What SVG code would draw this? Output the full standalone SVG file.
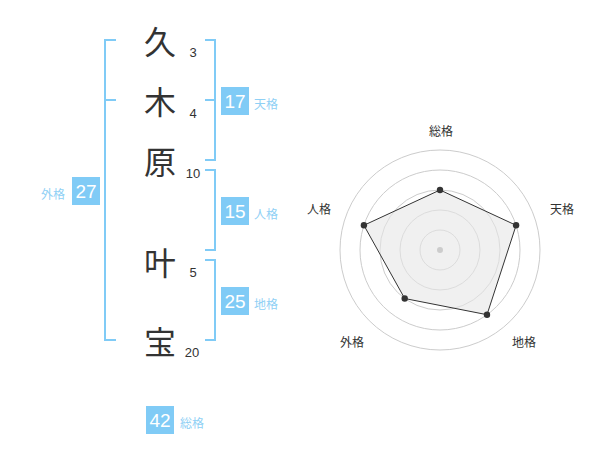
<svg xmlns="http://www.w3.org/2000/svg" width="600" height="470" viewBox="0 0 600 470">
<style>
.ch{font-family:"Noto Sans CJK JP","Noto Sans CJK SC",sans-serif;font-size:32px;fill:#333;text-anchor:middle;dominant-baseline:central}
.num{font-family:"Liberation Sans",Arial,sans-serif;font-size:13px;fill:#333;text-anchor:middle;dominant-baseline:central}
.br{fill:none;stroke:#80cbf6;stroke-width:2}
.box{fill:#80cbf6}
.bt{font-family:"Liberation Sans",Arial,sans-serif;font-size:19px;fill:#fff;text-anchor:middle;dominant-baseline:central}
.bl{font-family:"Noto Sans CJK JP","Noto Sans CJK SC",sans-serif;font-size:12px;fill:#8fd0f5;dominant-baseline:central}
.ring{fill:none;stroke:#ccc;stroke-width:1}
.rl{font-family:"Noto Sans CJK JP","Noto Sans CJK SC",sans-serif;font-size:12px;fill:#333;text-anchor:middle;dominant-baseline:central}
.pt{fill:#333}
</style>
<rect width="600" height="470" fill="#fff"/>
<g id="connectors">
<path class="br" d="M116,40 H105 V340 H116 M105,100 H116"/>
<path class="br" d="M205,40 H215 V160 H205 M205,100 H215"/>
<path class="br" d="M205,170 H215 V250 H205"/>
<path class="br" d="M205,260 H215 V340 H205"/>
</g>
<g id="char1"><text class="ch" x="160" y="40">久</text><text class="num" x="193" y="52">3</text></g>
<g id="char2"><text class="ch" x="160" y="100">木</text><text class="num" x="193" y="113">4</text></g>
<g id="char3"><text class="ch" x="160" y="160">原</text><text class="num" x="193" y="173">10</text></g>
<g id="char4"><text class="ch" x="160" y="261">叶</text><text class="num" x="193" y="272">5</text></g>
<g id="char5"><text class="ch" x="160" y="340">宝</text><text class="num" x="192" y="352">20</text></g>
<g id="tenkaku"><rect class="box" x="221" y="87" width="28" height="28"/><text class="bt" x="235" y="101">17</text><text class="bl" x="254" y="103">天格</text></g>
<g id="jinkaku"><rect class="box" x="221" y="197" width="28" height="28"/><text class="bt" x="235" y="211">15</text><text class="bl" x="254" y="213">人格</text></g>
<g id="chikaku"><rect class="box" x="221" y="287" width="28" height="28"/><text class="bt" x="235" y="301">25</text><text class="bl" x="254" y="303">地格</text></g>
<g id="gaikaku"><rect class="box" x="72" y="177" width="28" height="28"/><text class="bt" x="86" y="191">27</text><text class="bl" x="41" y="193">外格</text></g>
<g id="soukaku"><rect class="box" x="146" y="406" width="28" height="28"/><text class="bt" x="160" y="420">42</text><text class="bl" x="180" y="422">総格</text></g>
<g id="radar">
<circle class="ring" cx="440" cy="250" r="20"/>
<circle class="ring" cx="440" cy="250" r="40"/>
<circle class="ring" cx="440" cy="250" r="60"/>
<circle class="ring" cx="440" cy="250" r="80"/>
<circle class="ring" cx="440" cy="250" r="100"/>
<polygon points="440,190 516.1,225.3 487,314.7 404.7,298.5 363.9,225.3" fill="#e6e6e6" fill-opacity="0.6" stroke="#333" stroke-width="1"/>
<circle cx="440" cy="250" r="3" fill="#ccc"/>
<circle class="pt" cx="440" cy="190" r="3.2"/>
<circle class="pt" cx="516.1" cy="225.3" r="3.2"/>
<circle class="pt" cx="487" cy="314.7" r="3.2"/>
<circle class="pt" cx="404.7" cy="298.5" r="3.2"/>
<circle class="pt" cx="363.9" cy="225.3" r="3.2"/>
<text class="rl" x="441" y="130">総格</text>
<text class="rl" x="562" y="208">天格</text>
<text class="rl" x="524" y="341">地格</text>
<text class="rl" x="352" y="341">外格</text>
<text class="rl" x="319" y="208">人格</text>
</g>
</svg>
